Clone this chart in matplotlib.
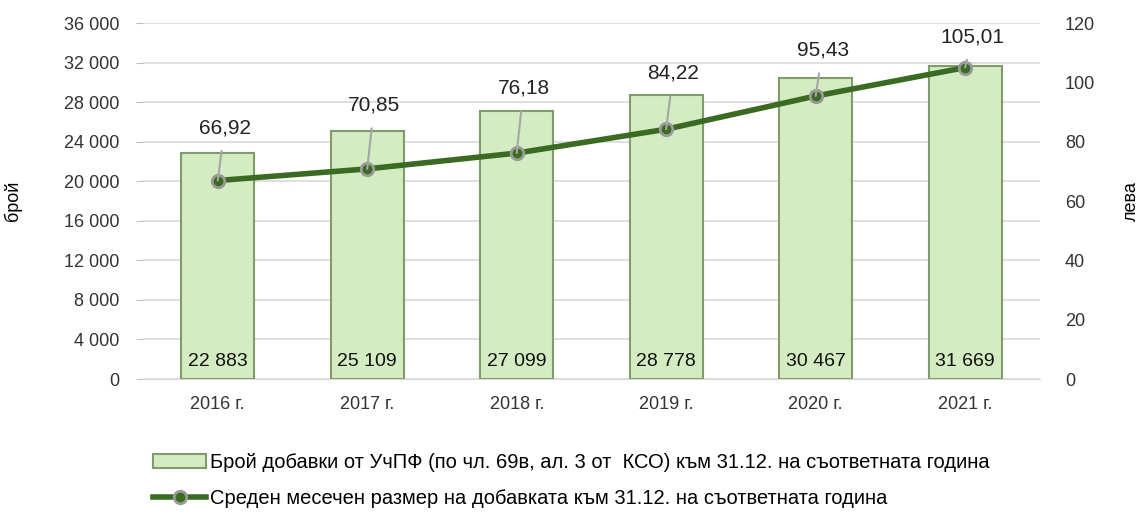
import matplotlib.pyplot as plt

years = ['2016 г.', '2017 г.', '2018 г.', '2019 г.', '2020 г.', '2021 г.']
counts = [22883, 25109, 27099, 28778, 30467, 31669]
avg_size = [66.92, 70.85, 76.18, 84.22, 95.43, 105.01]
avg_labels = ['66,92', '70,85', '76,18', '84,22', '95,43', '105,01']

plt.rcParams['font.family'] = ['Liberation Sans', 'DejaVu Sans']

fig = plt.figure(figsize=(11.44, 5.14), dpi=100)
ax1 = fig.add_axes([0.125, 0.2626, 0.784, 0.6924])
ax2 = ax1.twinx()

x = range(len(years))
ax1.bar(x, counts, width=0.49, color='#d4ecc2', edgecolor='#7f9c6a', linewidth=1.5,
        label='Брой добавки от УчПФ (по чл. 69в, ал. 3 от  КСО) към 31.12. на съответната година',
        zorder=2)
for i, c in enumerate(counts):
    ax1.text(i, 900, f'{c:,}'.replace(',', ' '), ha='center', va='bottom', fontsize=14,
             color='#111111', zorder=3)

ax1.set_ylim(0, 36000)
ax1.set_yticks(range(0, 36001, 4000))
ax1.set_yticklabels([f'{v:,}'.replace(',', ' ') for v in range(0, 36001, 4000)])
ax1.set_xlim(-0.5, 5.5)
ax1.set_xticks(list(x))
ax1.set_xticklabels(years)
ax1.grid(axis='y', color='#d9d9d9', linewidth=1.2, zorder=0)
ax1.set_axisbelow(True)
for s in ['top', 'right', 'left']:
    ax1.spines[s].set_visible(False)
ax1.spines['bottom'].set_color('#d9d9d9')
ax1.tick_params(axis='y', length=5, color='#bfbfbf', labelsize=13, pad=12, labelcolor='#333333')
ax1.tick_params(axis='x', length=0, labelsize=13, pad=12, labelcolor='#333333')
ax1.set_ylabel('брой', fontsize=13, labelpad=30)

ax2.plot(list(x), avg_size, color='#3b6a22', linewidth=4, marker='o', markersize=9,
         markerfacecolor='#3b6a22', markeredgecolor='#9a9a9a', markeredgewidth=2, zorder=4,
         label='Среден месечен размер на добавката към 31.12. на съответната година')
offsets_px = [53, 64, 65, 56, 46, 31]
for i, (v, lab, off) in enumerate(zip(avg_size, avg_labels, offsets_px)):
    ax2.annotate(lab, xy=(i, v), xytext=(5, off * 0.72), textcoords='offset points',
                 ha='center', va='center', fontsize=15, color='#222222', zorder=5,
                 arrowprops=dict(arrowstyle='-', color='#a6a6a6', lw=1.5, shrinkA=8, shrinkB=0))
ax2.set_ylim(0, 120)
ax2.set_yticks(range(0, 121, 20))
for s in ['top', 'right', 'left', 'bottom']:
    ax2.spines[s].set_visible(False)
ax2.tick_params(axis='y', length=0, labelsize=13, pad=18, labelcolor='#333333')
ax2.set_ylabel('лева', fontsize=13, labelpad=20)

h1, l1 = ax1.get_legend_handles_labels()
h2, l2 = ax2.get_legend_handles_labels()
fig.legend(h1 + h2, l1 + l2, loc='upper left', bbox_to_anchor=(0.127, 0.135), frameon=False,
           fontsize=14.5, handlelength=2.6, handletextpad=0.2, labelspacing=0.85, borderaxespad=0)

fig.savefig('out.png', dpi=100)
